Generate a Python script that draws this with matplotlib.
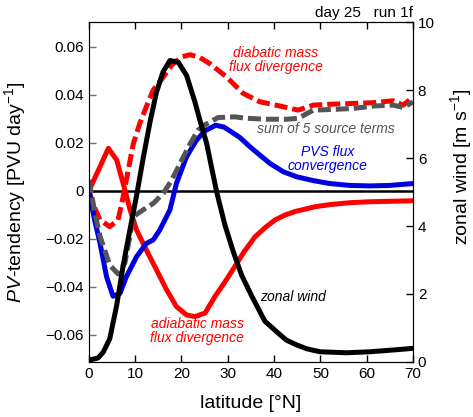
import matplotlib
matplotlib.use("Agg")
import matplotlib.pyplot as plt
from matplotlib.ticker import FuncFormatter

plt.rcParams['font.family'] = ['Liberation Sans', 'DejaVu Sans']
plt.rcParams['mathtext.fontset'] = 'custom'
plt.rcParams['mathtext.rm'] = 'Liberation Sans'
plt.rcParams['mathtext.it'] = 'Liberation Sans:italic'

# PV tendency terms [PVU/day]
lat_adiab = [0, 2.4, 4.2, 6.0, 7.4, 8.9, 10.3, 12.4, 14.6, 16.8, 18.9, 21.1,
             22.9, 25.1, 27.2, 29.4, 31.5, 33.5, 35.9, 38, 40.2, 42.3, 44.5,
             48.8, 52, 56.4, 60.7, 70]
adiab = [0.0, 0.0100, 0.0177, 0.0128, 0.003, -0.008, -0.0164, -0.0247, -0.033,
         -0.0414, -0.0483, -0.0518, -0.0525, -0.051, -0.0442, -0.038, -0.0317,
         -0.0255, -0.0192, -0.0155, -0.0122, -0.0102, -0.0087, -0.0067,
         -0.0058, -0.005, -0.0046, -0.0042]

lat_diab = [0, 1.2, 2.4, 4.5, 6.3, 7.4, 8.5, 9.6, 11, 12.4, 13.9, 16.1, 17.9,
            20, 21.9, 24, 26.1, 29.7, 33.3, 36.9, 41.3, 45.2, 48.5, 52.8, 57.1,
            61.4, 65.7, 67.9, 70]
diab = [0.0, -0.007, -0.0122, -0.015, -0.0122, -0.0025, 0.0086, 0.0197, 0.0281,
        0.035, 0.042, 0.0475, 0.0524, 0.0558, 0.0567, 0.0555, 0.053, 0.0475,
        0.0406, 0.0371, 0.0353, 0.0336, 0.0357, 0.0361, 0.0364, 0.0367, 0.0375,
        0.0357, 0.039]

lat_sum = [0, 1.3, 2.4, 4.5, 6.3, 7.8, 9.6, 11.7, 13.9, 16.1, 17.9, 19.7, 21.9,
           23.6, 25.1, 27.9, 31.5, 34, 38.4, 42.7, 45.2, 48.5, 52.8, 57.1, 61.4,
           65.7, 67.9, 70]
src_sum = [0.0045, -0.0093, -0.019, -0.031, -0.0347, -0.030, -0.0108, -0.008,
           -0.0053, -0.001, 0.0045, 0.0114, 0.0197, 0.0253, 0.0275, 0.0305,
           0.0308, 0.0302, 0.0298, 0.0298, 0.0302, 0.0336, 0.0339, 0.0343,
           0.0353, 0.0357, 0.0347, 0.037]

lat_pvs = [0, 1.2, 2.4, 3.8, 5.2, 6.7, 8.1, 10.3, 12.4, 13.9, 15.3, 17.5, 18.9,
           21.1, 23.2, 25.1, 27.4, 29.2, 30.8, 32.6, 34.8, 36.9, 39.1, 42, 44.9,
           48.5, 52, 56.4, 60.7, 65, 70]
pvs = [0.0, -0.012, -0.0219, -0.0358, -0.044, -0.0428, -0.0358, -0.0275,
       -0.022, -0.0205, -0.0164, -0.008, 0.003, 0.0142, 0.021, 0.025, 0.0273,
       0.0265, 0.0245, 0.0222, 0.0183, 0.0149, 0.0114, 0.0079, 0.0058, 0.0042,
       0.003, 0.0022, 0.002, 0.0022, 0.003]

# zonal wind [m/s]
lat_wind = [0, 2.0, 3.1, 4.5, 6.0, 7.4, 8.9, 10.3, 11.7, 13.2, 14.6, 16.0, 17.5,
            19.3, 21.1, 22.9, 24, 25.4, 27.6, 29.4, 31.2, 33, 35.1, 38, 41.3,
            42.7, 44.9, 47, 49.9, 55.7, 60.7, 66.5, 70]
wind = [0.05, 0.12, 0.29, 0.68, 1.67, 2.84, 3.92, 4.9, 5.98, 7.06, 7.94, 8.53,
        8.87, 8.82, 8.43, 7.65, 7.1, 6.45, 5.0, 4.02, 3.24, 2.55, 1.96, 1.2,
        0.8, 0.64, 0.5, 0.39, 0.3, 0.27, 0.3, 0.36, 0.4]

RED = '#ff0000'
BLUE = '#0000e0'
GREY = '#555555'
LW = 3.6
DASH = (0, (2.6, 1.0))

fig = plt.figure(figsize=(4.73, 4.17), dpi=100)
ax = fig.add_axes([0.188, 0.132, 0.685, 0.815])

ax.axhline(0, color='black', lw=1.8)
ax.plot(lat_adiab, adiab, color=RED, lw=LW, solid_joinstyle='round')
ax.plot(lat_diab, diab, color=RED, lw=LW, linestyle=DASH, dash_capstyle='butt')
ax.plot(lat_pvs, pvs, color=BLUE, lw=LW, solid_joinstyle='round')
ax.plot(lat_sum, src_sum, color=GREY, lw=LW, linestyle=DASH, dash_capstyle='butt')

ax.set_xlim(0, 70)
ax.set_ylim(-0.0714, 0.0703)
ax.set_xticks(range(0, 71, 10))
ax.set_yticks([-0.06, -0.04, -0.02, 0, 0.02, 0.04, 0.06])
ax.yaxis.set_major_formatter(FuncFormatter(
    lambda v, p: '0' if abs(v) < 1e-9 else f'{v:.2f}'.replace('-', '\u2212')))
ax.tick_params(direction='in', length=5, labelsize=11, top=True, width=1)
ax.spines['left'].set_color('0.45')
ax.tick_params(axis='y', colors='0.45', labelcolor='black')

ax.set_xlabel('latitude [°N]', fontsize=14)
ax.xaxis.set_label_coords(0.5, -0.098)
ax.set_ylabel('$PV$-tendency [PVU day$^{-1}$]', fontsize=14)
ax.yaxis.set_label_coords(-0.188, 0.5)

ax2 = ax.twinx()
ax2.plot(lat_wind, wind, color='black', lw=LW, solid_joinstyle='round')
ax2.set_ylim(0, 10)
ax2.set_yticks(range(0, 11, 2))
ax2.tick_params(direction='in', length=5, labelsize=11, width=1)
ax2.set_ylabel('zonal wind [m s$^{-1}$]', fontsize=14)
ax2.yaxis.set_label_coords(1.108, 0.574)

tk = dict(fontsize=10, style='italic', ha='center', va='center', linespacing=1.0)
ax.text(40.4, 0.0545, 'diabatic mass\nflux divergence', color=RED, **tk)
ax.text(51.2, 0.0258, 'sum of 5 source terms', color=GREY, **tk)
ax.text(51.6, 0.0134, 'PVS flux\nconvergence', color=BLUE, **tk)
ax.text(23.4, -0.0587, 'adiabatic mass\nflux divergence', color=RED, **tk)
ax.text(44.0, -0.0443, 'zonal wind', color='black', **tk)

fig.text(0.873, 0.985, 'day 25   run 1f', ha='right', va='top', fontsize=11)

fig.savefig('out.png', dpi=100)
